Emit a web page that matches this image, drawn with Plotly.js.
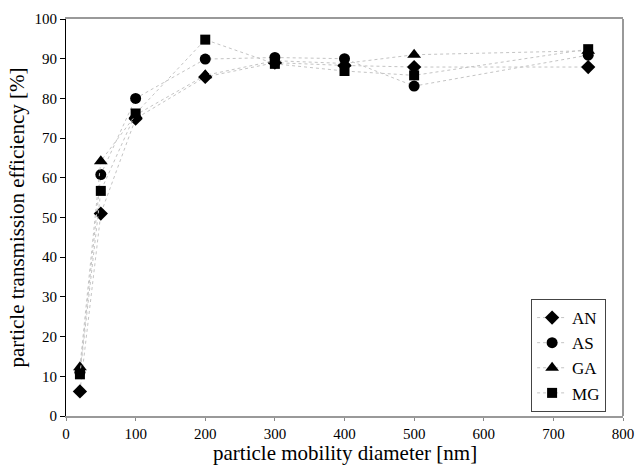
<!DOCTYPE html>
<html>
<head>
<meta charset="utf-8">
<script src="https://cdn.plot.ly/plotly-3.0.1.min.js"></script>
<style>html,body{margin:0;padding:0;background:#fff;}#chart{width:636px;height:467px;}</style>
</head>
<body>
<div id="chart"></div>
<script>
const diameters = [20, 50, 100, 200, 300, 400, 500, 750];
const AN = [6.2, 51.0, 74.9, 85.4, 89.0, 88.3, 87.9, 87.9];
const AS = [11.0, 60.8, 80.0, 89.9, 90.3, 90.0, 83.1, 90.9];
const GA = [12.3, 64.2, 75.8, 85.8, 89.5, 88.8, 91.0, 92.0];
const MG = [10.5, 56.7, 76.2, 94.8, 88.7, 86.9, 85.8, 92.4];
const seriesNames = ['AN', 'AS', 'GA', 'MG'];
const seriesValues = [AN, AS, GA, MG];
const symbols = ['diamond', 'circle', 'triangle-up', 'square'];
const sizes = [11, 11, 12, 10];
const xTitle = 'particle mobility diameter [nm]';
const yTitle = 'particle transmission efficiency [%]';

const traces = seriesNames.map((n, i) => ({
  x: diameters, y: seriesValues[i], name: n, type: 'scatter', mode: 'lines+markers',
  line: {color: '#c4c4c4', width: 1, dash: 'dot'},
  marker: {symbol: symbols[i], size: sizes[i], color: '#000'}
}));

const fam = 'Liberation Serif';
const f = s => ({family: fam, size: s, color: '#000'});
const layout = {
  width: 636, height: 467,
  margin: {l: 66, r: 13, t: 19, b: 51},
  paper_bgcolor: '#fff', plot_bgcolor: '#fff',
  font: f(16),
  showlegend: true,
  legend: {x: 0.835, y: 0.01, xanchor: 'left', yanchor: 'bottom', bordercolor: '#444', borderwidth: 1,
    bgcolor: '#fff', font: f(17), tracegroupgap: 0, itemwidth: 30},
  xaxis: {range: [0, 800], dtick: 100, showgrid: false, zeroline: false, showline: true,
    linecolor: '#999', linewidth: 2, mirror: true, ticks: 'outside', ticklen: 3, tickcolor: '#888',
    tickfont: f(15), automargin: false},
  yaxis: {range: [0, 100], dtick: 10, showgrid: false, zeroline: false, showline: true,
    linecolor: '#000', linewidth: 1, ticks: 'outside', ticklen: 5, tickcolor: '#000',
    tickfont: f(15), automargin: false,
    title: {text: yTitle, font: f(21), standoff: 4}},
  annotations: [{text: xTitle, xref: 'paper', yref: 'paper', x: 0.5, y: -0.094,
    xanchor: 'center', yanchor: 'middle', showarrow: false, font: f(21)}],
  shapes: [{type: 'line', xref: 'paper', yref: 'paper', x0: 1, x1: 1, y0: 0, y1: 1,
    line: {color: '#999', width: 2}}]
};
Plotly.newPlot('chart', traces, layout, {displayModeBar: false, staticPlot: true});
</script>
</body>
</html>
